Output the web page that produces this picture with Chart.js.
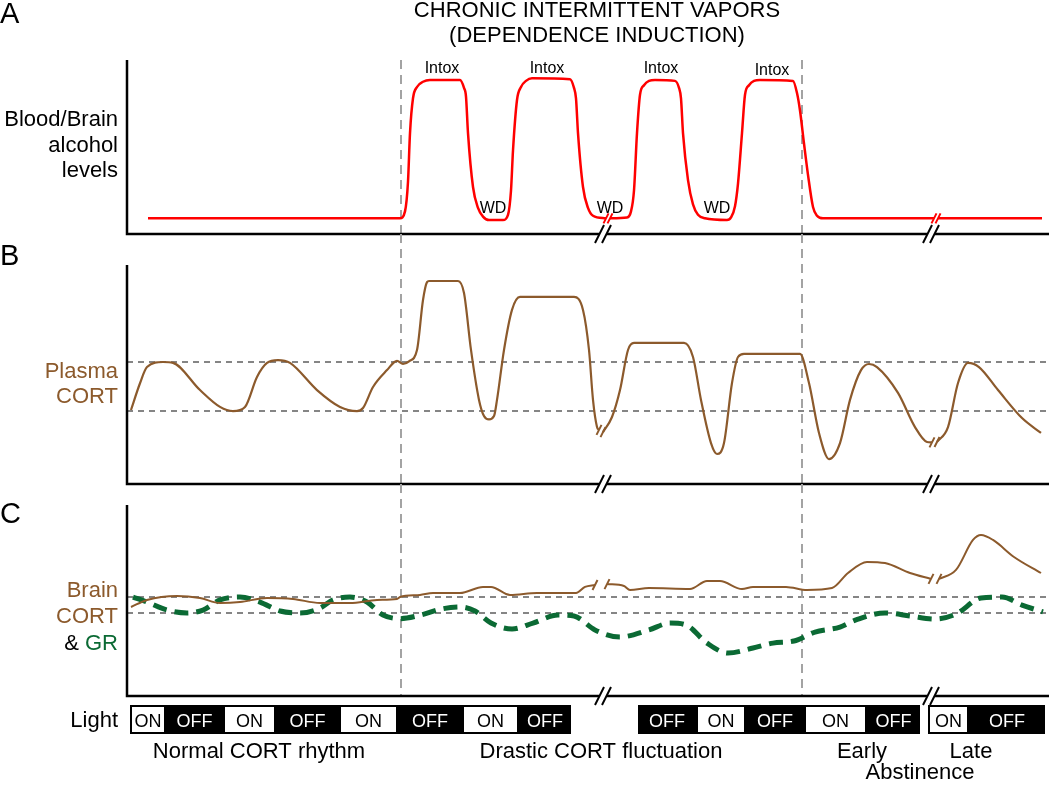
<!DOCTYPE html>
<html>
<head>
<meta charset="utf-8">
<title>Chronic intermittent vapors</title>
<script src="https://cdn.jsdelivr.net/npm/chart.js@4.4.1/dist/chart.umd.min.js"></script>
<style>
  body { margin: 0; background: #fff; }
  #wrap { position: relative; width: 1050px; height: 786px; }
  #wrap canvas { position: absolute; left: 0; top: 0; }
</style>
</head>
<body>
<div id="wrap">
  <canvas id="panelA" width="1050" height="786"></canvas>
  <canvas id="panelB" width="1050" height="786"></canvas>
  <canvas id="panelC" width="1050" height="786"></canvas>
</div>
<script>
// x = arbitrary time units, y = arbitrary level (0-100) inside each panel
// null y marks a break in the time axis
const phaseBounds = [274, 675];   // vapor exposure start / stop
const axisBreaks = [476, 804];

const alcohol = [[21,9],[273,9],[278,13],[281,30],[283,58],[286,78],[290,84.5],[296,87.5],[303,88.5],[333,88.5],[337,84],
  [339,79],[341,58],[346,27],[351,15],[356,10],[362,8],[376,8],[381,11],[384,25],[386,48],[390,77],[394,84.5],[399,88],
  [405,89.5],[443,89],[447,84],[449,78],[451,58],[456,27],[461,15],[466,10.5],[479,9],[481,null],[483,9],[500,9.5],
  [504,13],[507,25],[510,58],[513,80],[517,85.5],[522,88],[528,88.5],[548,88],[552,84],[554,78],[556,58],[561,31],
  [566,17],[571,11],[578,9],[600,8],[604,9.5],[608,16],[611,29],[615,58],[618,80],[622,85.5],[627,88],[633,88.5],
  [666,88],[670,81],[673,71],[677,52],[681,34],[686,15.5],[690,10.5],[696,9],[807,9],[809,null],[811,9],[915,9]];

const plasmaCort = [[4,33.8],[13,46],[20,53.4],[36,55.7],[46,55.3],[73,42.9],[93,35.2],[106,33.3],[118,35.2],[130,48.9],
  [140,55.3],[151,56.6],[163,55.3],[190,42.9],[213,35.2],[230,33.3],[236,34.7],[246,44.3],[260,52],[270,56.2],[276,54.8],
  [282,56],[290,61.2],[296,84],[300,92.2],[302,92.7],[331,92.7],[337,87.2],[344,61.2],[352,38.4],[357,31],[362,29.5],
  [367,31],[370,38.4],[377,61.2],[385,79.5],[393,85.4],[447,85.4],[456,79.5],[462,61.2],[466,38.4],[470,26],[472,24.7],
  [474,null],[476,23.7],[485,30.6],[493,42.9],[501,61.2],[507,64.4],[557,64.4],[566,58],[574,38.4],[584,18.7],[590,13.7],
  [597,18.7],[605,46.1],[611,58],[617,59.4],[673,59.4],[682,46.1],[692,23.3],[702,11.4],[713,18.7],[723,38.4],[734,52],
  [742,54.8],[750,53.4],[771,41.6],[788,26],[800,19.2],[805,19],[807,null],[810,19.2],[821,26],[831,46.1],[841,55.3],
  [852,53.4],[871,42.9],[895,30.1],[914,23.3]];

const brainCort = [[4,46.6],[20,50.3],[50,52.4],[73,51.3],[93,48.7],[113,49.2],[140,51.3],[166,50.8],[193,48.7],[223,48.7],
  [250,50.3],[270,50.8],[273,51.8],[293,52.9],[306,53.9],[333,53.9],[356,57.1],[364,57.1],[383,52.9],[410,53.9],[449,53.9],
  [458,57.1],[468,58.1],[474,null],[480,58.6],[497,57.6],[503,55.5],[522,56.5],[563,56],[580,60.2],[593,60.2],[615,56],
  [626,57.1],[659,57.1],[680,55.5],[705,56.5],[721,64.4],[740,70.2],[758,69.6],[783,64.4],[804,61.3],[808,null],[812,61.3],
  [829,66],[846,81.7],[854,84.3],[866,81.7],[887,72.8],[914,64.4]];

const brainGR = [[6,51.8],[20,49.2],[40,45],[60,43.5],[76,45],[93,50.3],[113,51.8],[133,49.2],[153,44.5],[173,43.5],[193,46],
  [206,50.3],[223,51.8],[240,49.2],[256,42.4],[273,40.5],[294,42.4],[314,45.5],[333,46.6],[348,44.5],[364,38.2],[385,35.1],
  [406,38.2],[431,42.4],[447,41.9],[468,34.6],[493,30.9],[522,34.6],[543,38.2],[559,37.2],[580,27.7],[601,22.5],[626,25.1],
  [646,27.7],[667,28.8],[688,33.5],[713,36.1],[729,39.8],[758,43.5],[783,41.9],[808,40.3],[829,42.9],[854,51.3],[875,51.8],
  [895,47.6],[916,44]];

const plasmaRange = [33.3, 55.7];
const brainRange = [43.5, 51.8];

const intoxX = [315, 420, 534, 645];
const wdX = [366, 483, 590];

const lightGroups = [
  { edges: [3, 39, 96, 149, 212, 271, 335, 392, 444], first: 'ON' },
  { edges: [511, 569, 619, 677, 740, 793], first: 'OFF' },
  { edges: [801, 842, 918], first: 'ON' }
];

const RED = '#ff0000', BROWN = '#8c5a2c', GREEN = '#0b6a34';
const FONT = '"Liberation Sans", Arial, sans-serif';

function toPoints(pairs) {
  return pairs.map(p => ({ x: p[0], y: p[1] }));
}

function text(ctx, str, x, y, size, color, align) {
  ctx.font = size + 'px ' + FONT;
  ctx.fillStyle = color || '#000';
  ctx.textAlign = align || 'left';
  ctx.textBaseline = 'alphabetic';
  ctx.fillText(str, x, y);
}

function slash(ctx, x, y, h, w) {
  ctx.beginPath();
  ctx.moveTo(x - w / 2, y + h / 2);
  ctx.lineTo(x + w / 2, y - h / 2);
  ctx.stroke();
}

function panelDecor(opts) {
  return {
    id: 'panelDecor',
    beforeDatasetsDraw(chart) {
      const { ctx, chartArea: a, scales: { x, y } } = chart;
      ctx.save();
      ctx.lineWidth = 2;
      ctx.strokeStyle = '#858585';
      ctx.setLineDash([6, 5]);
      (opts.guides || []).forEach(v => {
        const py = y.getPixelForValue(v);
        ctx.beginPath();
        ctx.moveTo(a.left, py);
        ctx.lineTo(a.right, py);
        ctx.stroke();
      });
      ctx.strokeStyle = '#a3a3a3';
      ctx.setLineDash([9, 6]);
      const from = opts.above ? opts.above.chartArea.bottom : a.top;
      phaseBounds.forEach(v => {
        const px = x.getPixelForValue(v);
        ctx.beginPath();
        ctx.moveTo(px, from);
        ctx.lineTo(px, a.bottom);
        ctx.stroke();
      });
      ctx.restore();
    },
    afterDatasetsDraw(chart) {
      const { ctx, chartArea: a, scales: { x } } = chart;
      ctx.save();
      // axes
      ctx.strokeStyle = '#000';
      ctx.lineWidth = 2.5;
      ctx.lineJoin = 'miter';
      ctx.beginPath();
      ctx.moveTo(a.left, a.top);
      ctx.lineTo(a.left, a.bottom);
      ctx.lineTo(a.right, a.bottom);
      ctx.stroke();
      // axis breaks
      axisBreaks.forEach(v => {
        const px = x.getPixelForValue(v);
        ctx.fillStyle = '#fff';
        ctx.fillRect(px - 4, a.bottom - 3, 8, 6);
        ctx.lineWidth = 2;
        slash(ctx, px - 3.5, a.bottom, 18, 9);
        slash(ctx, px + 3.5, a.bottom, 18, 9);
      });
      // breaks in the curves
      chart.data.datasets.forEach((ds, di) => {
        if (ds.borderDash) return;
        const meta = chart.getDatasetMeta(di);
        ctx.strokeStyle = ds.borderColor;
        ctx.lineWidth = 2;
        ds.data.forEach((p, i) => {
          if (p.y !== null) return;
          [meta.data[i - 1], meta.data[i + 1]].forEach(el => slash(ctx, el.x, el.y, 10, 5));
        });
      });
      if (opts.labels) opts.labels(ctx, chart);
      ctx.restore();
    }
  };
}

function panel(id, pad, datasets, opts) {
  return new Chart(document.getElementById(id), {
    type: 'line',
    data: { datasets: datasets },
    options: {
      responsive: false,
      animation: false,
      events: [],
      layout: { padding: pad },
      elements: {
        point: { radius: 0 },
        line: { cubicInterpolationMode: 'monotone', fill: false }
      },
      scales: {
        x: { type: 'linear', min: 0, max: 922, display: false },
        y: { min: 0, max: 100, display: false }
      },
      plugins: { legend: { display: false }, tooltip: { enabled: false } }
    },
    plugins: [panelDecor(opts)]
  });
}

const chartA = panel('panelA', { top: 60, bottom: 552, left: 127, right: 1 }, [
  { label: 'Blood/Brain alcohol', data: toPoints(alcohol), borderColor: RED, borderWidth: 2.5, spanGaps: false }
], {
  labels(ctx, chart) {
    const x = chart.scales.x;
    text(ctx, 'A', 0, 23, 29);
    text(ctx, 'CHRONIC INTERMITTENT VAPORS', 597, 17, 22, '#000', 'center');
    text(ctx, '(DEPENDENCE INDUCTION)', 597, 42, 22, '#000', 'center');
    text(ctx, 'Blood/Brain', 118, 126, 22, '#000', 'right');
    text(ctx, 'alcohol', 118, 152, 22, '#000', 'right');
    text(ctx, 'levels', 118, 177, 22, '#000', 'right');
    intoxX.forEach((v, i) => text(ctx, 'Intox', x.getPixelForValue(v), i === 3 ? 75 : 73, 16, '#000', 'center'));
    wdX.forEach(v => text(ctx, 'WD', x.getPixelForValue(v), 213, 16, '#000', 'center'));
  }
});

const chartB = panel('panelB', { top: 265, bottom: 302, left: 127, right: 1 }, [
  { label: 'Plasma CORT', data: toPoints(plasmaCort), borderColor: BROWN, borderWidth: 2.2, spanGaps: false }
], {
  above: chartA,
  guides: plasmaRange,
  labels(ctx) {
    text(ctx, 'B', 0, 265, 29);
    text(ctx, 'Plasma', 118, 378, 22, BROWN, 'right');
    text(ctx, 'CORT', 118, 403, 22, BROWN, 'right');
  }
});

const chartC = panel('panelC', { top: 505, bottom: 90, left: 127, right: 1 }, [
  { label: 'Brain CORT', data: toPoints(brainCort), borderColor: BROWN, borderWidth: 2, spanGaps: false },
  { label: 'GR', data: toPoints(brainGR), borderColor: GREEN, borderWidth: 5, borderDash: [14, 8], borderCapStyle: 'butt' }
], {
  above: chartB,
  guides: brainRange,
  labels(ctx, chart) {
    const x = chart.scales.x;
    text(ctx, 'C', 0, 523, 29);
    text(ctx, 'Brain', 118, 597, 22, BROWN, 'right');
    text(ctx, 'CORT', 118, 623, 22, BROWN, 'right');
    text(ctx, 'GR', 118, 650, 22, GREEN, 'right');
    const grW = ctx.measureText('GR').width;
    text(ctx, '& ', 118 - grW, 650, 22, '#000', 'right');

    // light / dark cycle
    text(ctx, 'Light', 118, 727, 22, '#000', 'right');
    const top = 705, h = 29;
    lightGroups.forEach(g => {
      const x0 = x.getPixelForValue(g.edges[0]);
      const x1 = x.getPixelForValue(g.edges[g.edges.length - 1]);
      ctx.fillStyle = '#000';
      ctx.fillRect(x0, top, x1 - x0, h);
      let on = g.first === 'ON';
      for (let i = 0; i < g.edges.length - 1; i++) {
        const a = x.getPixelForValue(g.edges[i]);
        const b = x.getPixelForValue(g.edges[i + 1]);
        if (on) {
          ctx.fillStyle = '#fff';
          ctx.fillRect(a + 2, top + 2, b - a - 4, h - 4);
        }
        text(ctx, on ? 'ON' : 'OFF', (a + b) / 2, top + 22, 18, on ? '#000' : '#fff', 'center');
        on = !on;
      }
    });

    text(ctx, 'Normal CORT rhythm', 259, 758, 22, '#000', 'center');
    text(ctx, 'Drastic CORT fluctuation', 601, 758, 22, '#000', 'center');
    text(ctx, 'Early', 862, 758, 22, '#000', 'center');
    text(ctx, 'Late', 971, 758, 22, '#000', 'center');
    text(ctx, 'Abstinence', 920, 779, 22, '#000', 'center');
  }
});
</script>
</body>
</html>
